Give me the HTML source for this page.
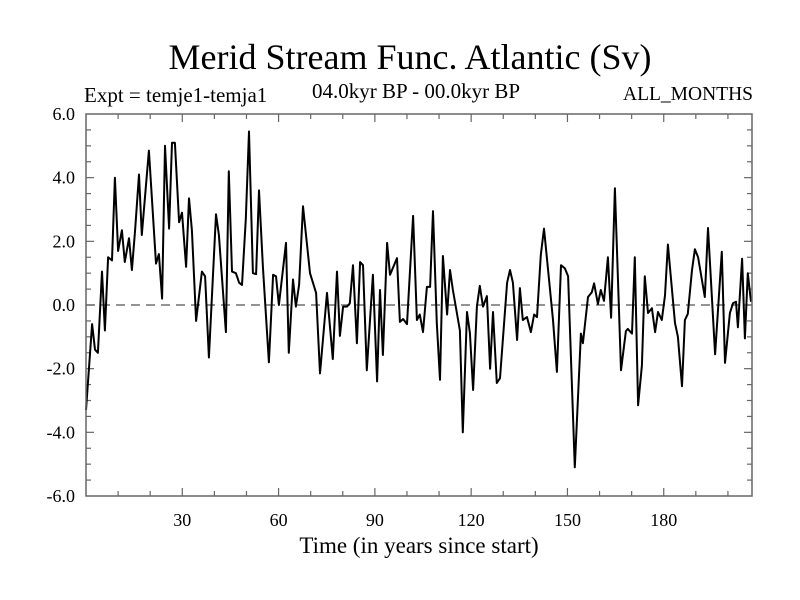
<!DOCTYPE html>
<html><head><meta charset="utf-8"><style>
html,body{margin:0;padding:0;background:#fff;}
svg{display:block;font-family:"Liberation Serif",serif;}
</style></head><body>
<svg id="chart" width="800" height="600" viewBox="0 0 800 600">
<text x="410" y="69" font-size="36" text-anchor="middle">Merid Stream Func. Atlantic (Sv)</text>
<text x="84" y="102" font-size="21">Expt = temje1-temja1</text>
<text x="416" y="98" font-size="21" text-anchor="middle">04.0kyr BP - 00.0kyr BP</text>
<text x="753" y="100" font-size="19.5" text-anchor="end">ALL_MONTHS</text>
<text x="419" y="553" font-size="23" text-anchor="middle">Time (in years since start)</text>
<g id="axes"></g>
<line x1="86" y1="305" x2="752" y2="305" stroke="#555" stroke-width="1.2" stroke-dasharray="9,6"/>
<path id="series" fill="none" stroke="#000" stroke-width="2" stroke-linejoin="round"/>
<rect x="86" y="114" width="666" height="382" fill="none" stroke="#666" stroke-width="1.5"/>
</svg>
<script>
const years = [0,1.9,2.8,3.7,5.0,5.9,6.9,8.1,9.0,10.0,11.2,12.1,13.4,14.3,15.3,16.5,17.4,19.6,21.8,22.7,23.7,24.6,25.9,26.8,27.7,29.0,29.9,31.2,32.1,33.0,34.3,
36.1,37.1,38.3,40.5,41.4,43.6,44.5,45.5,46.7,47.7,48.6,49.8,50.8,52.0,53.0,53.9,55.1,57.0,58.3,59.2,60.1,62.3,63.2,64.5,65.4,66.4,67.6,
69.8,71.7,72.9,75.1,76.9,78.2,79.1,80.1,81.3,82.2,83.2,84.4,85.4,86.3,87.5,89.4,90.7,91.6,92.5,93.8,94.7,96.9,97.8,98.8,100.0,101.9,103.1,104.0,
105.0,106.2,107.2,108.1,109.3,110.3,111.2,112.5,113.4,114.3,116.5,117.4,118.7,119.6,120.6,121.8,122.7,123.7,124.9,125.9,126.8,128.0,129.0,131.2,132.1,133.0,134.3,135.2,136.1,137.4,
138.6,139.6,140.5,141.7,142.7,145.5,146.7,148.0,149.2,150.2,152.3,154.2,154.8,156.4,157.6,158.3,159.5,160.4,161.4,162.6,163.6,164.8,166.7,168.2,168.8,170.1,171.0,172.0,
173.2,174.1,175.1,176.3,177.3,178.2,179.4,180.4,181.3,183.5,184.4,185.7,186.6,187.5,188.8,189.7,190.7,192.8,193.8,196.0,198.1,199.1,200.6,201.6,202.5,203.1,204.4,205.3,206.2,207.2];
const values = [-3.3,-0.6,-1.4,-1.5,1.05,-0.8,1.5,1.4,4.0,1.7,2.35,1.35,2.1,1.1,2.35,4.1,2.2,4.85,1.3,1.6,0.2,5.0,2.4,5.1,5.1,2.6,2.9,1.2,3.35,2.35,-0.5,
1.05,0.9,-1.65,2.85,2.2,-0.85,4.2,1.05,1.0,0.7,0.63,2.7,5.45,1.0,0.97,3.6,1.2,-1.8,0.95,0.9,0.0,1.95,-1.5,0.8,-0.05,0.63,3.1,
1.0,0.38,-2.15,0.38,-1.7,1.05,-0.97,-0.05,-0.05,0.05,1.25,-1.2,1.35,1.25,-2.05,0.95,-2.4,0.47,-1.57,1.95,0.95,1.47,-0.53,-0.44,-0.6,2.8,-0.47,-0.3,
-0.85,0.57,0.57,2.95,-0.57,-2.35,1.54,-0.3,1.1,0.47,-0.8,-4.0,-0.22,-0.88,-2.67,-0.05,0.6,-0.05,0.28,-2.0,-0.22,-2.45,-2.3,0.7,1.1,0.7,-1.1,0.53,-0.47,-0.38,
-0.85,-0.3,-0.38,1.57,2.4,-0.47,-2.1,1.25,1.15,0.9,-5.1,-0.9,-1.2,0.25,0.4,0.68,0.03,0.47,0.13,1.5,-0.4,3.67,-2.05,-0.82,-0.75,-0.9,1.5,-3.15,
-1.9,0.9,-0.25,-0.1,-0.85,-0.22,-0.47,0.3,1.9,-0.57,-1.0,-2.55,-0.47,-0.28,1.1,1.75,1.5,0.25,2.42,-1.55,1.67,-1.82,-0.25,0.06,0.1,-0.7,1.45,-1.05,1.0,0.1];
const xTickLabels = ["30","60","90","120","150","180"];
const xTickValues = [30,60,90,120,150,180];
const yTickLabels = ["6.0","4.0","2.0","0.0","-2.0","-4.0","-6.0"];
const yTickValues = [6,4,2,0,-2,-4,-6];

const L=86,R=752,T=114,B=496,XMIN=0,XMAX=207.5,YMIN=-6,YMAX=6;
const sx=v=>L+(v-XMIN)/(XMAX-XMIN)*(R-L);
const sy=v=>B-(v-YMIN)/(YMAX-YMIN)*(B-T);
const NS="http://www.w3.org/2000/svg";
const axes=document.getElementById('axes');
function mk(tag,attrs){const e=document.createElementNS(NS,tag);for(const k in attrs)e.setAttribute(k,attrs[k]);axes.appendChild(e);return e;}
for(let v=10;v<XMAX;v+=10){
  const major=v%30===0, len=major?8:5;
  let e=mk('line',{x1:sx(v),x2:sx(v),y1:B,y2:B-len,stroke:'#666','stroke-width':1.2});
  
  
  e=mk('line',{x1:sx(v),x2:sx(v),y1:T,y2:T+len,stroke:'#666','stroke-width':1.2});
  
  
}
for(let v=-5.5;v<6;v+=0.5){
  const major=Math.abs(v%2)<1e-9, len=major?8:5;
  let e=mk('line',{x1:L,x2:L+len,y1:sy(v),y2:sy(v),stroke:'#666','stroke-width':1.2});
  
  
  e=mk('line',{x1:R,x2:R-len,y1:sy(v),y2:sy(v),stroke:'#666','stroke-width':1.2});
  
  
}
xTickValues.forEach((v,i)=>{
  const t=mk('text',{x:sx(v),y:B+30,'font-size':18,'text-anchor':'middle'});
  t.textContent=xTickLabels[i];
  
  
});
yTickValues.forEach((v,i)=>{
  const t=mk('text',{x:L-11,y:sy(v)+6,'font-size':18,'text-anchor':'end'});
  t.textContent=yTickLabels[i];
  
  
});
document.getElementById('series').setAttribute('d',years.map((y,i)=>(i?'L':'M')+sx(y).toFixed(1)+' '+sy(values[i]).toFixed(1)).join(' '));
</script>
</body></html>
